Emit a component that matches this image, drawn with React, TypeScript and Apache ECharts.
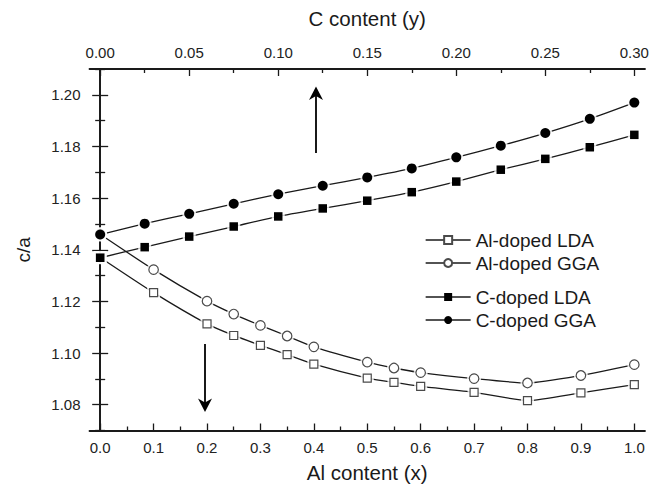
import React, { useEffect, useRef } from "react";
import * as echarts from "echarts";

// Bottom axis: Al content (x)
const alX = [0, 0.1, 0.2, 0.25, 0.3, 0.35, 0.4, 0.5, 0.55, 0.6, 0.7, 0.8, 0.9, 1.0];
const alLDA = [1.137, 1.1234, 1.1113, 1.1068, 1.103, 1.0994, 1.0957, 1.0903, 1.0886, 1.0871, 1.0848, 1.0816, 1.0846, 1.0878];
const alGGA = [1.146, 1.1323, 1.1201, 1.1151, 1.1107, 1.1066, 1.1024, 1.0965, 1.0942, 1.0924, 1.0901, 1.0884, 1.0913, 1.0955];

// Top axis: C content (y)
const cY = [0, 0.025, 0.05, 0.075, 0.1, 0.125, 0.15, 0.175, 0.2, 0.225, 0.25, 0.275, 0.3];
const cLDA = [1.1369, 1.141, 1.1451, 1.149, 1.1529, 1.156, 1.159, 1.1623, 1.1664, 1.171, 1.1752, 1.1797, 1.1845];
const cGGA = [1.1459, 1.1501, 1.1539, 1.1578, 1.1615, 1.1648, 1.168, 1.1715, 1.1758, 1.1803, 1.1852, 1.1907, 1.197];

// Tick values
const bottomMajor = [0, 0.1, 0.2, 0.3, 0.4, 0.5, 0.6, 0.7, 0.8, 0.9, 1.0];
const bottomMinor = [0.05, 0.15, 0.25, 0.35, 0.45, 0.55, 0.65, 0.75, 0.85, 0.95];
const topMajor = [0, 0.05, 0.1, 0.15, 0.2, 0.25, 0.3];
const topMinor = [0.025, 0.075, 0.125, 0.175, 0.225, 0.275];
const yMajor = [1.08, 1.1, 1.12, 1.14, 1.16, 1.18, 1.2];
const yMinor = [1.07, 1.09, 1.11, 1.13, 1.15, 1.17, 1.19, 1.21];

const FONT = "Liberation Sans, Arial, Helvetica, sans-serif";
const INK = "#1a1a1a";

const pairs = (xs: number[], ys: number[]) => xs.map((x, i) => [x, ys[i]]);

export default function App() {
  const ref = useRef<HTMLDivElement>(null);

  useEffect(() => {
    document.body.style.margin = "0";
    if (!ref.current) return;
    const chart = echarts.init(ref.current, null, { renderer: "svg" });

    const axisLine = { show: true, lineStyle: { color: INK, width: 1.8 } };
    const tickStyle = { color: INK, width: 1.3 };

    const mkX = (pos: string, min: number, max: number, vals: number[], len: number, labels: boolean, dec: number, extra: any = {}) => ({
      type: "value",
      position: pos,
      min,
      max,
      axisLine: labels ? axisLine : { show: false },
      axisTick: { show: true, inside: true, length: len, customValues: vals, lineStyle: tickStyle },
      axisLabel: labels
        ? {
            show: true,
            customValues: vals,
            formatter: (v: number) => v.toFixed(dec),
            margin: 9,
            fontSize: 15,
            color: "#222",
            fontFamily: FONT,
          }
        : { show: false },
      splitLine: { show: false },
      ...extra,
    });

    const mkY = (pos: string, vals: number[], len: number, labels: boolean, showLine: boolean, extra: any = {}) => ({
      type: "value",
      position: pos,
      min: 1.07,
      max: 1.21,
      axisLine: showLine ? axisLine : { show: false },
      axisTick: { show: true, inside: true, length: len, customValues: vals, lineStyle: tickStyle },
      axisLabel: labels
        ? {
            show: true,
            customValues: vals,
            formatter: (v: number) => v.toFixed(2),
            margin: 9,
            fontSize: 15,
            color: "#222",
            fontFamily: FONT,
          }
        : { show: false },
      splitLine: { show: false },
      ...extra,
    });

    const nameStyle = { fontSize: 20.5, color: INK, fontFamily: FONT };

    const sets = [
      { name: "Al-doped LDA", data: pairs(alX, alLDA), xi: 0, symbol: "rect", size: 8, halo: 13, filled: false, z: 4 },
      { name: "Al-doped GGA", data: pairs(alX, alGGA), xi: 0, symbol: "circle", size: 9.5, halo: 14, filled: false, z: 4 },
      { name: "C-doped LDA", data: pairs(cY, cLDA), xi: 1, symbol: "rect", size: 8.5, halo: 13, filled: true, z: 6 },
      { name: "C-doped GGA", data: pairs(cY, cGGA), xi: 1, symbol: "circle", size: 10, halo: 14, filled: true, z: 6 },
    ];

    const series: any[] = [];
    sets.forEach((s, i) => {
      series.push({
        type: "line",
        name: "_line" + i,
        xAxisIndex: s.xi,
        yAxisIndex: 0,
        data: s.data,
        symbol: "none",
        showSymbol: false,
        smooth: 0.2,
        lineStyle: { color: INK, width: 1.3 },
        z: 2,
        silent: true,
      });
      series.push({
        type: "scatter",
        name: "_halo" + i,
        xAxisIndex: s.xi,
        yAxisIndex: 0,
        data: s.data,
        symbol: s.symbol,
        symbolSize: s.halo,
        itemStyle: { color: "#ffffff" },
        z: s.z - 1,
        silent: true,
      });
    });
    sets.forEach((s) => {
      series.push({
        type: "line",
        name: s.name,
        xAxisIndex: s.xi,
        yAxisIndex: 0,
        data: s.data,
        symbol: s.symbol,
        symbolSize: s.size,
        showSymbol: true,
        lineStyle: { opacity: 0, width: 0 },
        itemStyle: s.filled
          ? { color: "#000000", borderColor: "#000000", borderWidth: 0 }
          : { color: "#ffffff", borderColor: "#4a4a4a", borderWidth: 1.2 },
        z: s.z,
        silent: true,
      });
    });

    const legendBase = {
      orient: "vertical",
      left: 425,
      padding: 0,
      itemWidth: 45,
      itemHeight: 10,
      itemGap: 3,
      selectedMode: false,
      textStyle: { fontSize: 19, lineHeight: 20, color: INK, fontFamily: FONT },
      lineStyle: { opacity: 1, width: 1.3, color: INK, type: "solid" },
    };

    const option: any = {
      animation: false,
      backgroundColor: "#ffffff",
      textStyle: { fontFamily: FONT },
      grid: { left: 89.5, right: 27, top: 69, bottom: 58.5, containLabel: false },
      xAxis: [
        mkX("bottom", -0.02, 1.02, bottomMajor, 7, true, 1, {
          name: "Al content (x)",
          nameLocation: "middle",
          nameGap: 31,
          nameTextStyle: nameStyle,
        }),
        mkX("top", -0.006, 0.306, topMajor, 7, true, 2, {
          name: "C content (y)",
          nameLocation: "middle",
          nameGap: 40,
          nameTextStyle: nameStyle,
        }),
        mkX("bottom", -0.02, 1.02, bottomMinor, 4, false, 1),
        mkX("top", -0.006, 0.306, topMinor, 4, false, 2),
      ],
      yAxis: [
        mkY("left", yMajor, 8, true, true, {
          name: "c/a",
          nameLocation: "middle",
          nameGap: 57,
          nameTextStyle: { fontSize: 19, color: INK, fontFamily: FONT },
        }),
        mkY("left", yMinor, 5, false, false),
        mkY("right", yMajor, 8, false, true),
        mkY("right", yMinor, 5, false, false),
      ],
      legend: [
        { ...legendBase, top: 230, data: ["Al-doped LDA", "Al-doped GGA"] },
        { ...legendBase, top: 287, data: ["C-doped LDA", "C-doped GGA"] },
      ],
      graphic: [
        // up arrow (C content)
        { type: "line", shape: { x1: 316, y1: 153, x2: 316, y2: 94 }, style: { stroke: "#000", lineWidth: 1.8 }, z: 10 },
        { type: "polygon", shape: { points: [[316, 86.5], [309, 100], [316, 96], [323, 100]] }, style: { fill: "#000" }, z: 10 },
        // down arrow (Al content)
        { type: "line", shape: { x1: 205, y1: 344, x2: 205, y2: 404 }, style: { stroke: "#000", lineWidth: 1.8 }, z: 10 },
        { type: "polygon", shape: { points: [[205, 412], [198, 398.5], [205, 402.5], [212, 398.5]] }, style: { fill: "#000" }, z: 10 },
      ],
      series,
    };

    chart.setOption(option);
    return () => chart.dispose();
  }, []);

  return (
    <div
      ref={ref}
      style={{ position: "absolute", left: 0, top: 0, width: 672, height: 489, background: "#fff" }}
    />
  );
}
